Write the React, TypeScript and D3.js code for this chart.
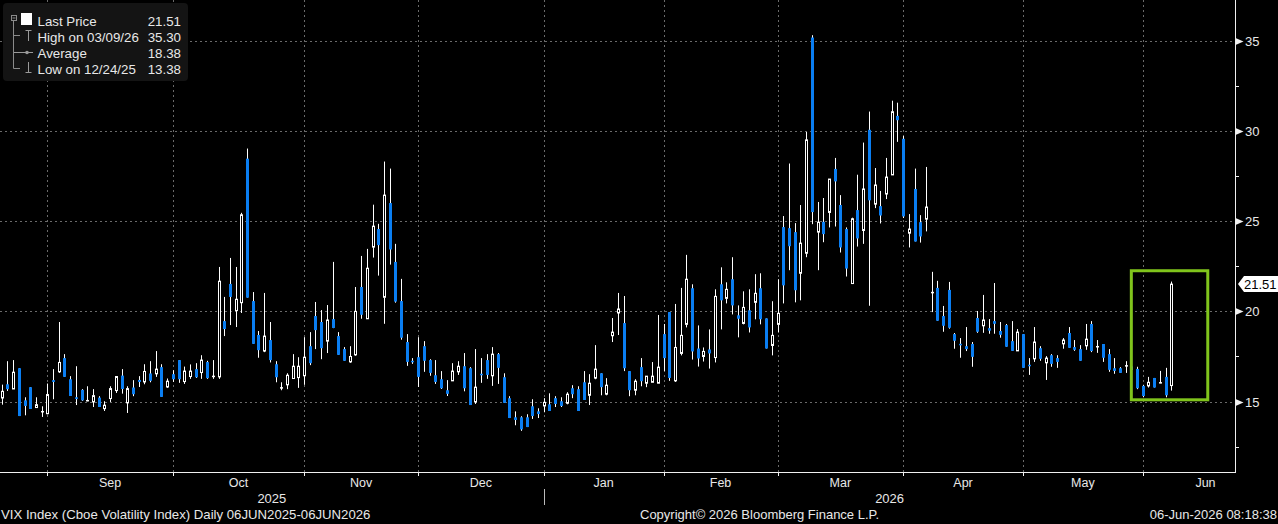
import React from 'react';
import * as d3 from 'd3';

// ---------- data ----------
const START_DATE = '2025-08-19';
const END_DATE = '2026-06-05';
const HOLIDAYS = ['2025-12-25', '2026-01-01', '2026-04-03'];

const OPEN = [
  15.20, 15.96, 15.70, 16.85, 15.07, 15.80, 14.67, 14.43, 14.33, 16.19,
  16.65, 17.41, 16.24, 15.24, 15.65, 15.04, 14.98, 15.22, 14.61, 15.17,
  15.61, 16.44, 14.93, 15.78, 16.20, 16.09, 16.56, 16.54, 16.91, 15.81,
  16.52, 17.30, 16.11, 16.39, 16.80, 16.61, 17.19, 16.33, 16.37, 19.46,
  21.52, 20.04, 20.48, 28.46, 20.57, 18.69, 17.80, 18.41, 17.07, 15.74,
  15.93, 16.28, 16.33, 16.43, 18.07, 19.74, 19.41, 18.35, 19.57, 18.63,
  17.91, 17.20, 17.59, 21.35, 19.59, 23.56, 24.56, 20.78, 26.00, 22.74,
  20.57, 18.30, 17.24, 17.46, 18.07, 17.30, 16.46, 16.24, 15.63, 16.15,
  16.65, 16.96, 16.85, 14.98, 16.52, 17.30, 16.43, 17.63, 16.35, 15.19,
  14.13, 14.13, 14.13, 14.74, 14.46, 14.76, 14.85, 15.19, 15.02, 14.91,
  15.74, 15.69, 16.07, 15.35, 16.30, 16.57, 15.41, 18.65, 19.91, 19.35,
  16.69, 15.63, 16.91, 16.02, 16.07, 16.02, 18.74, 19.96, 16.15, 17.67,
  19.28, 21.28, 17.94, 17.50, 17.89, 17.44, 21.50, 20.72, 21.78, 19.78,
  19.33, 20.06, 20.50, 21.28, 19.61, 18.11, 19.28, 24.67, 24.61, 24.39,
  22.11, 23.22, 35.17, 24.39, 24.96, 25.48, 27.89, 25.89, 24.56, 21.54,
  25.61, 24.48, 30.06, 25.94, 25.83, 26.50, 27.56, 30.83, 29.56, 24.33,
  26.78, 24.94, 25.11, 21.02, 21.30, 19.74, 21.19, 18.74, 18.19, 18.07,
  18.19, 19.63, 19.20, 19.07, 19.46, 18.91, 19.24, 18.35, 17.81, 18.74,
  17.02, 17.37, 17.96, 17.15, 17.57, 17.41, 18.20, 18.80, 18.02, 17.91,
  18.09, 19.30, 18.02, 18.19, 17.63, 16.85, 16.85, 16.96, 16.95, 16.81,
  15.87, 15.87, 16.31, 16.02, 16.37, 15.89,
];
const HIGH = [
  15.94, 17.24, 17.30, 16.85, 15.24, 15.80, 15.24, 14.74, 16.00, 16.80,
  19.41, 17.63, 16.41, 16.96, 15.69, 15.85, 15.69, 15.30, 15.02, 15.85,
  16.39, 16.80, 15.85, 16.19, 16.41, 17.07, 17.24, 17.80, 17.07, 16.28,
  16.74, 17.30, 16.94, 17.06, 17.13, 17.57, 17.26, 17.30, 22.46, 20.80,
  22.96, 22.46, 25.46, 29.02, 21.07, 18.91, 21.02, 19.41, 17.24, 16.07,
  16.57, 17.63, 17.46, 18.57, 18.85, 20.52, 20.07, 20.35, 22.74, 18.85,
  18.02, 18.07, 21.35, 23.07, 23.46, 25.91, 24.85, 28.30, 27.91, 23.74,
  21.80, 18.74, 17.41, 18.57, 18.35, 17.35, 17.30, 16.69, 16.19, 17.13,
  17.24, 17.69, 16.91, 17.91, 17.41, 17.63, 18.02, 17.69, 16.57, 15.30,
  14.46, 14.19, 14.30, 15.13, 14.63, 15.19, 15.46, 15.30, 15.24, 15.52,
  15.91, 15.85, 16.69, 16.52, 18.13, 16.57, 16.30, 19.63, 21.02, 20.85,
  16.69, 16.24, 17.41, 16.41, 17.19, 19.80, 19.30, 19.96, 20.41, 21.30,
  23.13, 21.50, 19.22, 18.00, 19.00, 21.22, 22.44, 21.61, 23.00, 20.33,
  21.11, 21.22, 22.06, 22.11, 19.61, 20.56, 21.78, 25.28, 28.19, 24.89,
  25.89, 29.94, 35.30, 26.06, 26.28, 27.33, 28.50, 26.44, 24.65, 25.19,
  27.57, 29.35, 31.07, 27.94, 26.67, 28.50, 31.67, 31.56, 29.72, 25.39,
  27.91, 25.33, 28.00, 22.19, 21.69, 20.30, 21.63, 18.80, 18.52, 19.13,
  18.30, 20.02, 20.91, 19.57, 21.57, 19.41, 19.30, 19.46, 19.02, 18.74,
  17.41, 19.13, 18.07, 17.52, 17.63, 17.57, 18.52, 19.13, 18.41, 18.13,
  19.30, 19.46, 18.41, 18.19, 17.91, 17.41, 16.91, 17.24, 17.10, 16.93,
  15.93, 16.37, 16.31, 16.70, 16.87, 21.65,
];
const LOW = [
  14.83, 15.59, 15.70, 14.20, 14.24, 14.59, 14.67, 14.15, 14.30, 15.13,
  16.59, 16.37, 15.31, 14.81, 15.04, 15.02, 14.70, 14.70, 14.48, 14.98,
  15.48, 15.44, 14.37, 15.30, 15.81, 15.96, 16.07, 16.37, 15.26, 15.76,
  16.09, 16.04, 15.98, 16.26, 16.31, 16.26, 16.26, 16.26, 16.26, 18.63,
  19.24, 19.13, 19.91, 20.76, 18.20, 17.43, 17.74, 17.17, 16.07, 15.63,
  15.69, 16.28, 15.76, 15.93, 17.02, 17.91, 17.35, 17.69, 19.07, 17.59,
  17.26, 17.15, 17.54, 19.59, 19.59, 22.98, 21.98, 19.31, 22.59, 20.48,
  18.43, 16.98, 17.09, 15.81, 16.65, 16.43, 15.98, 15.70, 15.31, 16.15,
  16.48, 15.57, 14.81, 14.87, 16.04, 16.26, 15.87, 15.98, 14.93, 14.09,
  13.69, 13.38, 13.59, 14.04, 14.09, 14.41, 14.48, 14.70, 14.70, 14.85,
  15.19, 14.48, 15.09, 14.81, 16.24, 15.35, 15.35, 18.30, 18.69, 16.69,
  15.30, 15.35, 15.85, 15.80, 16.07, 16.02, 16.69, 16.15, 16.09, 17.56,
  19.11, 17.33, 16.94, 17.22, 16.83, 17.17, 19.00, 20.44, 19.83, 18.56,
  19.28, 18.83, 19.56, 19.28, 17.94, 17.56, 18.83, 20.44, 22.28, 20.50,
  20.61, 23.00, 24.83, 22.28, 23.83, 24.65, 24.70, 23.26, 21.93, 21.54,
  23.59, 23.74, 20.31, 25.72, 24.87, 26.22, 27.56, 29.39, 25.17, 23.54,
  23.87, 23.81, 24.43, 19.96, 19.48, 18.87, 19.04, 17.93, 17.43, 17.80,
  16.93, 18.81, 18.81, 18.76, 18.76, 18.54, 18.04, 17.81, 17.81, 16.87,
  16.48, 17.20, 17.26, 16.20, 16.93, 16.87, 17.93, 17.98, 17.81, 17.26,
  17.87, 17.74, 17.70, 17.20, 16.65, 16.54, 16.59, 16.59, 16.60, 15.69,
  15.24, 15.78, 15.78, 16.02, 15.24, 15.61,
];
const CLOSE = [
  15.57, 15.69, 16.63, 14.20, 14.76, 14.59, 14.83, 14.45, 15.39, 16.09,
  17.17, 16.37, 15.31, 15.15, 15.07, 15.06, 15.33, 14.70, 14.80, 15.72,
  16.39, 15.70, 15.72, 15.41, 16.09, 16.67, 16.15, 16.80, 15.26, 16.13,
  16.24, 16.24, 16.69, 16.69, 16.35, 17.30, 16.30, 16.46, 21.67, 19.02,
  20.80, 20.67, 25.35, 20.76, 18.20, 17.85, 18.63, 17.30, 16.35, 15.78,
  16.46, 16.96, 16.96, 17.46, 17.13, 18.96, 17.96, 19.52, 19.08, 17.59,
  17.26, 17.50, 20.00, 19.81, 22.39, 24.72, 23.67, 26.44, 23.43, 20.54,
  18.54, 17.20, 17.20, 16.37, 17.26, 16.59, 16.09, 15.74, 15.43, 16.69,
  16.96, 15.74, 14.81, 15.80, 16.48, 16.48, 17.63, 16.87, 14.93, 14.09,
  13.98, 13.46, 13.59, 14.20, 14.31, 14.96, 14.48, 14.87, 14.76, 15.41,
  15.41, 14.48, 15.09, 16.02, 16.80, 15.80, 15.91, 18.85, 20.13, 16.85,
  15.63, 16.13, 16.13, 16.41, 16.41, 16.91, 17.41, 16.31, 18.00, 18.67,
  21.78, 17.78, 17.39, 17.78, 17.67, 20.83, 20.61, 21.22, 20.33, 19.59,
  20.22, 19.11, 21.00, 19.56, 17.94, 18.67, 19.89, 21.44, 23.61, 21.17,
  23.78, 29.50, 25.50, 24.94, 24.28, 27.33, 27.20, 23.54, 22.37, 25.13,
  24.04, 26.78, 26.15, 27.00, 25.31, 27.44, 31.06, 30.59, 25.26, 24.56,
  23.87, 24.15, 25.78, 21.06, 19.48, 19.20, 19.09, 18.37, 18.13, 17.91,
  17.48, 18.87, 19.52, 18.93, 19.31, 18.70, 18.04, 17.81, 18.85, 16.87,
  16.98, 18.30, 17.37, 17.41, 17.09, 17.20, 18.41, 17.98, 17.87, 17.26,
  18.46, 17.80, 18.06, 17.43, 16.76, 16.70, 16.59, 17.00, 16.75, 15.74,
  15.31, 16.07, 15.78, 16.06, 15.35, 21.51,
];

const Y_TICKS = [15, 20, 25, 30, 35];
const Y_MINOR_TICKS = [12.5, 17.5, 22.5, 27.5, 32.5];
const MONTHS = ['Jan', 'Feb', 'Mar', 'Apr', 'May', 'Jun', 'Jul', 'Aug', 'Sep', 'Oct', 'Nov', 'Dec'];

const LEGEND_LABELS = ['Last Price', 'High on 03/09/26', 'Average', 'Low on 12/24/25'];
const LEGEND_VALUES = ['21.51', '35.30', '18.38', '13.38'];
const LAST_PRICE = 21.51;

// highlight box, in data units (trading-day index, price)
const HIGHLIGHT_X = [198, 211.4];
const HIGHLIGHT_Y = [15.1, 22.25];

const FOOTER_LEFT = 'VIX Index (Cboe Volatility Index) Daily 06JUN2025-06JUN2026';
const FOOTER_MID = 'Copyright\u00A9 2026 Bloomberg Finance L.P.';
const FOOTER_RIGHT = '06-Jun-2026 08:18:38';

// ---------- trading calendar ----------
function buildDates(): Date[] {
  const out: Date[] = [];
  const d = new Date(START_DATE + 'T00:00:00Z');
  const end = new Date(END_DATE + 'T00:00:00Z');
  while (d <= end) {
    const wd = d.getUTCDay();
    const iso = d.toISOString().slice(0, 10);
    if (wd !== 0 && wd !== 6 && !HOLIDAYS.includes(iso)) out.push(new Date(d));
    d.setUTCDate(d.getUTCDate() + 1);
  }
  return out;
}

const W = 1278;
const H = 524;
const PLOT_RIGHT = 1235.5;
const PLOT_BOTTOM = 472;
const BLUE = '#0a7ef2';
const GREEN = '#80c41c';
const GRID = '#6a6a6a';
const TXT = '#e8e8e8';
const FONT = "'Liberation Sans', Arial, Helvetica, sans-serif";

export default function App() {
  const dates = buildDates();
  const n = dates.length;

  const x = d3.scaleLinear().domain([-0.3, 216.26]).range([0, PLOT_RIGHT]);
  const y = d3.scaleLinear().domain([11.1, 37.25]).range([PLOT_BOTTOM, 0]);

  // month ticks at last trading day of each month
  const ticks: number[] = [];
  for (let i = 0; i < n - 1; i++) {
    if (dates[i].getUTCMonth() !== dates[i + 1].getUTCMonth()) ticks.push(i);
  }
  const monthLabels = ticks.map((t, k) => {
    const next = k + 1 < ticks.length ? ticks[k + 1] : t + 22;
    return { label: MONTHS[dates[t + 1].getUTCMonth()], pos: (t + next) / 2 };
  });
  // year split
  const yearTick = ticks.find((t) => dates[t + 1].getUTCFullYear() !== dates[t].getUTCFullYear()) as number;
  const yearLabels = [
    { label: String(dates[0].getUTCFullYear()), cx: (0 + x(yearTick)) / 2 },
    { label: String(dates[n - 1].getUTCFullYear()), cx: (x(yearTick) + PLOT_RIGHT) / 2 },
  ];

  const snap = (v: number) => Math.round(v) + 0.5;

  return (
    <div style={{ position: 'absolute', left: 0, top: 0, width: W, height: H, background: '#000' }}>
      <svg width={W} height={H} style={{ display: 'block', background: '#000' }} fontFamily={FONT}>
        <rect x={0} y={0} width={W} height={H} fill="#000" />

        {/* grid */}
        {Y_TICKS.map((v) => (
          <line key={'hg' + v} x1={0} x2={PLOT_RIGHT} y1={snap(y(v))} y2={snap(y(v))}
            stroke={GRID} strokeWidth={1} strokeDasharray="2,3" />
        ))}
        {ticks.map((t) => (
          <line key={'vg' + t} x1={snap(x(t))} x2={snap(x(t))} y1={0} y2={PLOT_BOTTOM}
            stroke={GRID} strokeWidth={1} strokeDasharray="2,3" />
        ))}

        {/* candles */}
        {OPEN.map((o, i) => {
          const c = CLOSE[i];
          const cx = Math.round(x(i));
          const up = c >= o;
          const yTop = y(Math.max(o, c));
          const yBot = y(Math.min(o, c));
          const bodyH = yBot - yTop;
          const wick = (
            <line x1={cx + 0.5} x2={cx + 0.5} y1={y(HIGH[i])} y2={y(LOW[i])} stroke="#fff" strokeWidth={1} />
          );
          if (up) {
            return (
              <g key={i}>
                {wick}
                {bodyH < 2.5 ? (
                  <rect x={cx - 1} y={yTop - 0.75 + bodyH / 2} width={3} height={1.5} fill="#fff" />
                ) : (
                  <rect x={cx - 0.5} y={yTop} width={2} height={bodyH} fill="#000" stroke="#fff" strokeWidth={1} />
                )}
              </g>
            );
          }
          return (
            <g key={i}>
              {wick}
              <rect x={cx - 1} y={bodyH < 1.5 ? yTop - 0.75 + bodyH / 2 : yTop} width={3}
                height={Math.max(bodyH, 1.5)} fill={BLUE} />
            </g>
          );
        })}

        {/* highlight box */}
        <rect x={x(HIGHLIGHT_X[0])} y={y(HIGHLIGHT_Y[1])} width={x(HIGHLIGHT_X[1]) - x(HIGHLIGHT_X[0])}
          height={y(HIGHLIGHT_Y[0]) - y(HIGHLIGHT_Y[1])} fill="none" stroke={GREEN} strokeWidth={3} />

        {/* axes */}
        <line x1={PLOT_RIGHT} x2={PLOT_RIGHT} y1={0} y2={PLOT_BOTTOM + 0.5} stroke="#f0f0f0" strokeWidth={1} />
        <line x1={0} x2={PLOT_RIGHT + 0.5} y1={PLOT_BOTTOM + 0.5} y2={PLOT_BOTTOM + 0.5} stroke="#f0f0f0" strokeWidth={1} />
        {Y_TICKS.map((v) => {
          const yy = snap(y(v));
          return (
            <g key={'yt' + v}>
              <polygon points={`${PLOT_RIGHT},${yy - 3.5} ${PLOT_RIGHT + 8},${yy} ${PLOT_RIGHT},${yy + 3.5}`} fill="#f0f0f0" />
              <text x={PLOT_RIGHT + 9.5} y={yy + 4.8} fill={TXT} fontSize={13}>{v}</text>
            </g>
          );
        })}
        {Y_MINOR_TICKS.map((v) => (
          <line key={'ym' + v} x1={PLOT_RIGHT} x2={PLOT_RIGHT + 3.5} y1={snap(y(v))} y2={snap(y(v))} stroke="#f0f0f0" />
        ))}
        {ticks.map((t) => (
          <line key={'xt' + t} x1={snap(x(t))} x2={snap(x(t))} y1={PLOT_BOTTOM} y2={PLOT_BOTTOM + 4} stroke="#f0f0f0" />
        ))}
        {monthLabels.map((m) => (
          <text key={'ml' + m.label} x={x(m.pos)} y={487} fill={TXT} fontSize={12.5} textAnchor="middle">{m.label}</text>
        ))}
        {yearLabels.map((yl) => (
          <text key={'yl' + yl.label} x={yl.cx} y={503} fill={TXT} fontSize={13} textAnchor="middle">{yl.label}</text>
        ))}
        <line x1={snap(x(yearTick))} x2={snap(x(yearTick))} y1={489} y2={505} stroke="#bbb" strokeWidth={1} />

        {/* last price tag */}
        {(() => {
          const yy = y(LAST_PRICE);
          return (
            <g>
              <polygon points={`${PLOT_RIGHT + 2.5},${yy} ${PLOT_RIGHT + 8.5},${yy - 8} ${W},${yy - 8} ${W},${yy + 8} ${PLOT_RIGHT + 8.5},${yy + 8}`} fill="#fff" />
              <text x={PLOT_RIGHT + 8.5} y={yy + 4.8} fill="#000" fontSize={13}>{LAST_PRICE.toFixed(2)}</text>
            </g>
          );
        })()}

        {/* legend */}
        <g>
          <rect x={3} y={3} width={185} height={78} rx={4} fill="#141414" />
          <line x1={13.5} x2={13.5} y1={21} y2={68.5} stroke="#8a8a8a" />
          <line x1={13.5} x2={20} y1={35.5} y2={35.5} stroke="#8a8a8a" />
          <line x1={13.5} x2={20} y1={68.5} y2={68.5} stroke="#8a8a8a" />
          <rect x={11.5} y={15.5} width={5} height={5} fill="#141414" stroke="#8a8a8a" />
          <line x1={12.5} x2={15.5} y1={18} y2={18} stroke="#8a8a8a" />
          <rect x={21} y={13} width={11} height={12} fill="#fff" />
          {/* high icon */}
          <line x1={25.5} x2={31.5} y1={30.5} y2={30.5} stroke="#9a9a9a" />
          <line x1={28.5} x2={28.5} y1={30.5} y2={41} stroke="#9a9a9a" />
          {/* average icon */}
          <line x1={14} x2={33} y1={52.5} y2={52.5} stroke="#9a9a9a" />
          <circle cx={27} cy={52.5} r={1.8} fill="#9a9a9a" />
          {/* low icon */}
          <line x1={28.5} x2={28.5} y1={62} y2={72.5} stroke="#9a9a9a" />
          <line x1={25.5} x2={31.5} y1={72.5} y2={72.5} stroke="#9a9a9a" />
          {LEGEND_LABELS.map((lab, k) => (
            <g key={'lg' + k}>
              <text x={37.5} y={25.5 + k * 16} fill={TXT} fontSize={13.3}>{lab}</text>
              <text x={181} y={25.5 + k * 16} fill={TXT} fontSize={13.3} textAnchor="end">{LEGEND_VALUES[k]}</text>
            </g>
          ))}
        </g>

        {/* footer */}
        <text x={1} y={519} fill={TXT} fontSize={13.2}>{FOOTER_LEFT}</text>
        <text x={640} y={519} fill={TXT} fontSize={13}>{FOOTER_MID}</text>
        <text x={1277} y={519} fill={TXT} fontSize={13} textAnchor="end">{FOOTER_RIGHT}</text>
      </svg>
    </div>
  );
}
